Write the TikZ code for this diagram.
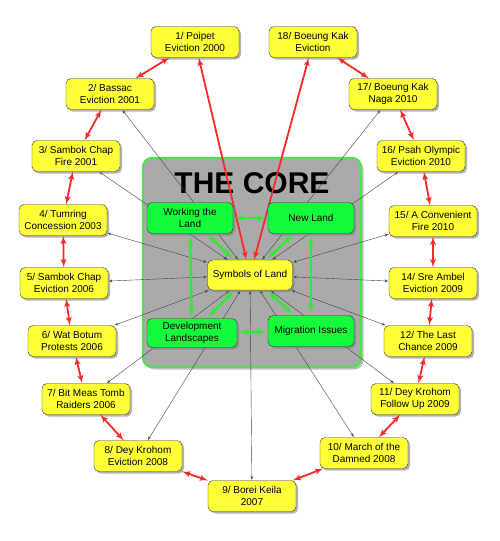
\documentclass[tikz,border=0pt]{standalone}
\usepackage{fontspec}
\setmainfont{Liberation Sans}
\usepackage{tikz}
\usetikzlibrary{shapes,arrows,positioning,shadows}
\usepackage{xcolor}

\definecolor{eventyellow}{RGB}{255,255,55}
\definecolor{themegreen}{RGB}{20,250,60}
\definecolor{coregray}{RGB}{170,170,170}
\definecolor{coreborder}{RGB}{80,225,80}
\definecolor{chainred}{RGB}{250,40,40}
\definecolor{themelink}{RGB}{45,235,45}

\pgfdeclarelayer{corelayer}
\pgfdeclarelayer{linklayer}
\pgfsetlayers{corelayer,linklayer,main}

\begin{document}
\begin{tikzpicture}[x=1pt, y=-1pt, font=\fontsize{10}{11.7}\selectfont]
  \tikzstyle{event} = [rectangle, draw=black!80, fill=eventyellow, align=center, rounded corners=5pt, minimum width=88pt, minimum height=31pt, inner sep=2pt, drop shadow={shadow xshift=2pt, shadow yshift=-2pt, opacity=0.6}]
  \tikzstyle{theme} = [event, fill=themegreen, minimum width=86pt]
  \tikzstyle{chain} = [draw=chainred, line width=1.8pt, latex'-latex']
  \tikzstyle{link} = [draw=black!75, line width=0.4pt, latex'-latex']
  \tikzstyle{themearrow} = [draw=themelink, line width=2.2pt, latex'-latex', shorten >=2pt, shorten <=2pt]

  \useasboundingbox (0,0) rectangle (500,541);

  \begin{pgfonlayer}{corelayer}
    \draw[fill=coregray, draw=coreborder, line width=2.2pt, rounded corners=9pt, drop shadow={shadow xshift=2.5pt, shadow yshift=-2.5pt, opacity=0.5}] (143,158) rectangle (361,367);
    \node[font=\fontsize{30}{30}\bfseries] (title) at (252,183) {THE CORE};
  \end{pgfonlayer}

  \node[event] (e1) at (195,42) {1/ Poipet\\Eviction 2000};
  \node[event] (e2) at (110,94) {2/ Bassac\\Eviction 2001};
  \node[event] (e3) at (76,156) {3/ Sambok Chap\\Fire 2001};
  \node[event] (e4) at (63,220) {4/ Tumring\\Concession 2003};
  \node[event] (e5) at (64,283) {5/ Sambok Chap\\Eviction 2006};
  \node[event] (e6) at (72,341) {6/ Wat Botum\\Protests 2006};
  \node[event] (e7) at (86,399) {7/ Bit Meas Tomb\\Raiders 2006};
  \node[event] (e8) at (138,456) {8/ Dey Krohom\\Eviction 2008};
  \node[event] (e9) at (252,496) {9/ Borei Keila\\2007};
  \node[event] (e10) at (364,453) {10/ March of the\\Damned 2008};
  \node[event] (e11) at (415,399) {11/ Dey Krohom\\Follow Up 2009};
  \node[event] (e12) at (428,341) {12/ The Last\\Chance 2009};
  \node[event] (e14) at (433,283) {14/ Sre Ambel\\Eviction 2009};
  \node[event] (e15) at (433,221) {15/ A Convenient\\Fire 2010};
  \node[event] (e16) at (421,156) {16/ Psah Olympic\\Eviction 2010};
  \node[event] (e17) at (393,94) {17/ Boeung Kak\\Naga 2010};
  \node[event] (e18) at (313,42) {18/ Boeung Kak\\Eviction};

  \node[event, minimum width=85pt, minimum height=30pt] (symbols) at (250,275) {Symbols of Land};
  \node[theme] (working) at (190,218) {Working the\\Land};
  \node[theme] (newland) at (311,218) {New Land};
  \node[theme, minimum width=90pt, minimum height=29pt] (develop) at (192,333) {Development\\Landscapes};
  \node[theme] (migration) at (311,331) {Migration Issues};

  \begin{pgfonlayer}{linklayer}
    \path[link] (symbols) -- (e2);
    \path[link] (symbols) -- (e3);
    \path[link] (symbols) -- (e4);
    \path[link] (symbols) -- (e5);
    \path[link] (symbols) -- (e6);
    \path[link] (symbols) -- (e7);
    \path[link] (symbols) -- (e8);
    \path[link] (symbols) -- (e9);
    \path[link] (symbols) -- (e10);
    \path[link] (symbols) -- (e11);
    \path[link] (symbols) -- (e12);
    \path[link] (symbols) -- (e14);
    \path[link] (symbols) -- (e15);
    \path[link] (symbols) -- (e16);
    \path[link] (symbols) -- (e17);

    \path[chain] (symbols) -- (e1);
    \path[chain] (symbols) -- (e18);
  \end{pgfonlayer}

  \path[chain] (e1) -- (e2);
  \path[chain] (e2) -- (e3);
  \path[chain] (e3) -- (e4);
  \path[chain] (e4) -- (e5);
  \path[chain] (e5) -- (e6);
  \path[chain] (e6) -- (e7);
  \path[chain] (e7) -- (e8);
  \path[chain] (e8) -- (e9);
  \path[chain] (e9) -- (e10);
  \path[chain] (e10) -- (e11);
  \path[chain] (e11) -- (e12);
  \path[chain] (e12) -- (e14);
  \path[chain] (e14) -- (e15);
  \path[chain] (e15) -- (e16);
  \path[chain] (e16) -- (e17);
  \path[chain] (e17) -- (e18);

  \path[themearrow] (working) -- (newland);
  \path[themearrow] (working) -- (develop);
  \path[themearrow] (newland) -- (migration);
  \path[themearrow] (develop) -- (migration);
  \path[themearrow] (working) -- (symbols);
  \path[themearrow] (newland) -- (symbols);
  \path[themearrow] (develop) -- (symbols);
  \path[themearrow] (migration) -- (symbols);

\end{tikzpicture}
\end{document}
